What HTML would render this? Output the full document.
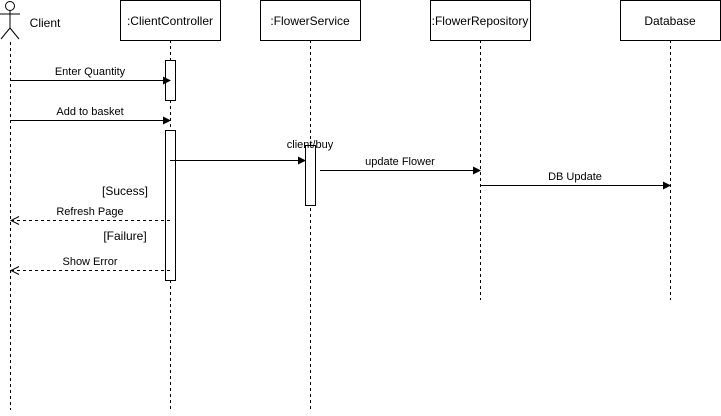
<!DOCTYPE html>
<html><head><style>body{margin:0;background:#fff}</style></head><body>
<svg width="721" height="411" xmlns="http://www.w3.org/2000/svg" font-family="Liberation Sans, sans-serif">
<defs><marker id="a" markerWidth="8" markerHeight="8" refX="7" refY="4" orient="auto" markerUnits="userSpaceOnUse"><path d="M0,0 L8,4 L0,8z" fill="#000"/></marker>
<marker id="o" markerWidth="10" markerHeight="10" refX="9" refY="5" orient="auto" markerUnits="userSpaceOnUse"><path d="M1,1 L9,5 L1,9" fill="none" stroke="#000"/></marker></defs>
<g stroke="#000" fill="none">
<circle cx="10" cy="6" r="4.5"/><path d="M10,10.5V28M0,14H20M10,28L1,39M10,28L19,39"/>
<g stroke-dasharray="3,3"><path d="M10.5,42V410M170.5,40V410M310.5,40V410M480.5,40V300M670.5,40V300"/></g>
<rect x="120.5" y="0.5" width="100" height="40" fill="#fff"/>
<rect x="260.5" y="0.5" width="100" height="40" fill="#fff"/>
<rect x="430.5" y="0.5" width="100" height="40" fill="#fff"/>
<rect x="620.5" y="0.5" width="100" height="40" fill="#fff"/>
<rect x="165.5" y="60.5" width="10" height="40" fill="#fff"/>
<rect x="165.5" y="130.5" width="10" height="150" fill="#fff"/>
<rect x="305.5" y="145.5" width="10" height="60" fill="#fff"/>
<path d="M10,80.5H170" marker-end="url(#a)"/>
<path d="M10,120.5H170" marker-end="url(#a)"/>
<path d="M170,160.5H305" marker-end="url(#a)"/>
<path d="M320,170.5H480" marker-end="url(#a)"/>
<path d="M480,185.5H670" marker-end="url(#a)"/>
<path d="M170,220.5H11" stroke-dasharray="3,3" marker-end="url(#o)"/>
<path d="M170,270.5H11" stroke-dasharray="3,3" marker-end="url(#o)"/>
</g>
<g font-size="12" text-anchor="middle" fill="#000">
<text x="170" y="25">:ClientController</text><text x="310" y="25">:FlowerService</text>
<text x="480" y="25">:FlowerRepository</text><text x="670" y="25">Database</text>
<text x="45" y="27">Client</text>
<text x="125" y="195">[Sucess]</text><text x="125" y="240">[Failure]</text>
</g>
<g font-size="11" text-anchor="middle" fill="#000">
<text x="90" y="75">Enter Quantity</text><text x="90" y="115">Add to basket</text>
<text x="310" y="148">client/buy</text><text x="400" y="165">update Flower</text>
<text x="575" y="180">DB Update</text><text x="90" y="215">Refresh Page</text><text x="90" y="265">Show Error</text>
</g>
</svg>
</body></html>
